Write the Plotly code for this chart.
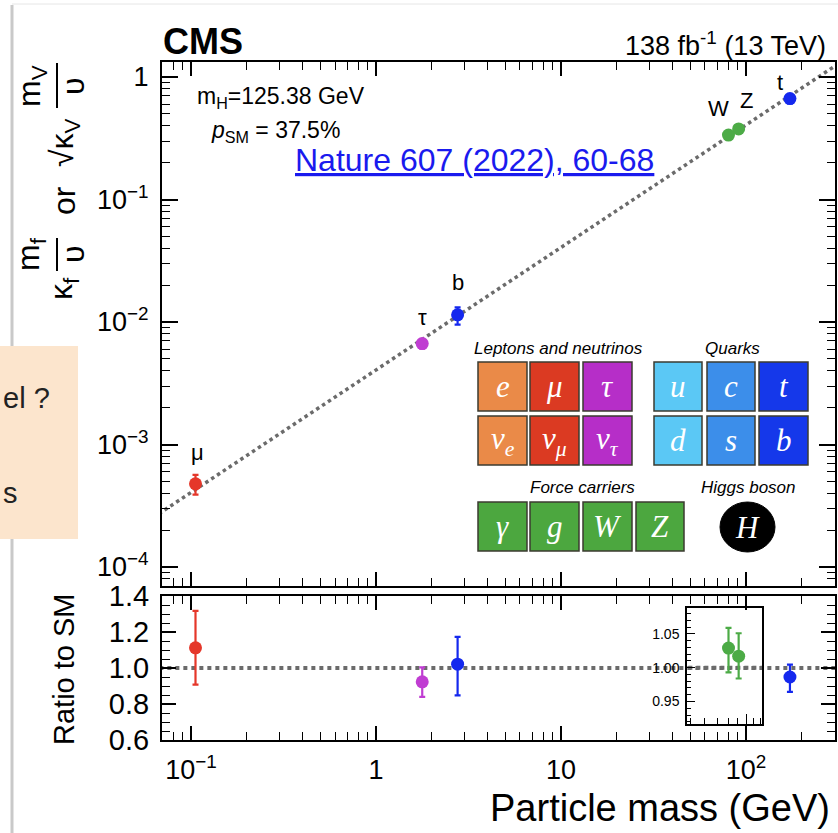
import numpy as np
import plotly.graph_objects as go

# ---------------- data ----------------
particles = ["μ", "τ", "b", "W", "Z", "t"]
masses = [0.1057, 1.777, 2.76, 80.38, 91.19, 172.76]          # GeV
ratio = [1.112, 0.923, 1.021, 1.029, 1.017, 0.950]            # ratio to SM
ratio_up = [0.205, 0.080, 0.152, 0.030, 0.034, 0.069]
ratio_dn = [0.204, 0.083, 0.173, 0.036, 0.033, 0.083]
colors = ["#E5372A", "#C03DD2", "#1428EE", "#4CAB46", "#4CAB46", "#1428EE"]
vev = 246.22
sm_mass_span = [0.05, 400.0]

ytick_vals = [1e-4, 1e-3, 1e-2, 1e-1, 1]
ytick_text = ["10<sup>−4</sup>", "10<sup>−3</sup>", "10<sup>−2</sup>", "10<sup>−1</sup>", "1"]
xtick_vals = [0.1, 1, 10, 100]
xtick_text = ["10<sup>−1</sup>", "1", "10", "10<sup>2</sup>"]
rtick_vals = [0.6, 0.8, 1.0, 1.2, 1.4]
itick_vals = [0.95, 1.00, 1.05]

W, H = 838, 833
def px(x): return x / W
def py(y): return 1 - y / H

FONT = "Liberation Sans, Arial, Helvetica, sans-serif"
SERIF = "Liberation Serif, DejaVu Serif, serif"

X0, X1 = 162, 835
xr = [-1.157, 2.481]

fig = go.Figure()

fig.add_trace(go.Scatter(x=sm_mass_span, y=[m / vev for m in sm_mass_span], mode="lines",
                         line=dict(color="#6b6b6b", width=3.5, dash="dot"),
                         xaxis="x", yaxis="y", showlegend=False, hoverinfo="skip"))
fig.add_trace(go.Scatter(x=sm_mass_span, y=[1, 1], mode="lines",
                         line=dict(color="#6b6b6b", width=4, dash="dot"),
                         xaxis="x2", yaxis="y2", showlegend=False, hoverinfo="skip"))
fig.add_trace(go.Scatter(x=[40, 150], y=[1, 1], mode="lines",
                         line=dict(color="#6b6b6b", width=4, dash="dot"),
                         xaxis="x3", yaxis="y3", showlegend=False, hoverinfo="skip"))

inset_set = {"W", "Z"}
label_off = {"μ": (2, 31), "τ": (0, 26), "b": (0, 32), "W": (-10, 27), "Z": (8, 28), "t": (-10, 16)}

annotations = []
for name, m, r, ru, rd, c in zip(particles, masses, ratio, ratio_up, ratio_dn, colors):
    base = m / vev
    fig.add_trace(go.Scatter(
        x=[m], y=[r * base], mode="markers",
        marker=dict(color=c, size=13),
        error_y=dict(type="data", symmetric=False, array=[ru * base], arrayminus=[rd * base],
                     color=c, thickness=2.2, width=3),
        xaxis="x", yaxis="y", showlegend=False))
    ax, ay = ("x3", "y3") if name in inset_set else ("x2", "y2")
    fig.add_trace(go.Scatter(
        x=[m], y=[r], mode="markers",
        marker=dict(color=c, size=13),
        error_y=dict(type="data", symmetric=False, array=[ru], arrayminus=[rd],
                     color=c, thickness=2.2, width=3),
        xaxis=ax, yaxis=ay, showlegend=False))
    dx, dy = label_off[name]
    annotations.append(dict(x=np.log10(m), y=np.log10(r * base), xref="x", yref="y",
                            text=name, showarrow=False, xshift=dx, yshift=dy,
                            font=dict(family=FONT, size=22, color="black")))

def minor_log(lo, hi):
    vals = []
    for e in range(lo, hi + 1):
        for d in range(2, 10):
            vals.append(d * 10.0 ** e)
    return vals

axis_common = dict(showline=True, linecolor="black", linewidth=2, mirror="allticks",
                   ticks="inside", tickcolor="black", tickwidth=1.5, showgrid=False,
                   zeroline=False)
tf26 = dict(family=FONT, size=27, color="black")
tf29 = dict(family=FONT, size=29, color="black")

top_dom = [py(586), py(62)]
bot_dom = [py(740), py(596)]

fig.update_layout(
    width=W, height=H, margin=dict(l=0, r=0, t=0, b=0, autoexpand=False),
    paper_bgcolor="white", plot_bgcolor="rgba(0,0,0,0)",
    xaxis=dict(domain=[px(X0), px(X1)], type="log", range=xr, anchor="y",
               tickvals=xtick_vals, showticklabels=False, ticklen=14,
               minor=dict(tickvals=minor_log(-2, 2), ticks="inside", ticklen=8,
                          tickcolor="black", tickwidth=1.2), **axis_common),
    yaxis=dict(domain=top_dom, type="log", range=[-4.155, 0.1224], anchor="x",
               tickvals=ytick_vals, ticktext=ytick_text, ticklen=16, ticklabelstandoff=6,
               tickfont=tf26,
               minor=dict(tickvals=minor_log(-5, 0), ticks="inside", ticklen=8,
                          tickcolor="black", tickwidth=1.2), **axis_common),
    xaxis2=dict(domain=[px(X0), px(X1)], type="log", range=xr, anchor="y2",
                tickvals=xtick_vals, ticktext=xtick_text, ticklen=14, ticklabelstandoff=5,
                tickfont=tf26,
                minor=dict(tickvals=minor_log(-2, 2), ticks="inside", ticklen=8,
                           tickcolor="black", tickwidth=1.2), **axis_common),
    yaxis2=dict(domain=bot_dom, range=[0.6, 1.4], anchor="x2",
                tickvals=rtick_vals, tickformat=".1f", ticklen=14, ticklabelstandoff=5,
                tickfont=tf29,
                minor=dict(dtick=0.05, ticks="inside", ticklen=8, tickcolor="black",
                           tickwidth=1.2), **axis_common),
    xaxis3=dict(domain=[px(687), px(762)], type="log", range=[1.681, 2.086], anchor="y3",
                showline=True, linecolor="black", linewidth=1.5, mirror=True,
                ticks="inside", ticklen=10, tickcolor="black", tickvals=[100],
                showticklabels=False, showgrid=False, zeroline=False,
                minor=dict(tickvals=[50, 60, 70, 80, 90, 110, 120], ticks="inside", ticklen=6,
                           tickcolor="black")),
    yaxis3=dict(domain=[py(724), py(607.7)], range=[0.9167, 1.0888], anchor="x3",
                showline=True, linecolor="black", linewidth=1.5, mirror=True,
                ticks="inside", ticklen=8, tickcolor="black", tickvals=itick_vals,
                tickformat=".2f", ticklabelstandoff=3,
                tickfont=dict(family=FONT, size=14, color="black"),
                showgrid=False, zeroline=False,
                minor=dict(dtick=0.01, ticks="inside", ticklen=4, tickcolor="black")),
)

def T(text, x, y, size, xanchor="center", yanchor="middle", angle=0, color="black",
      family=FONT):
    annotations.append(dict(x=px(x), y=py(y), xref="paper", yref="paper", text=text,
                            showarrow=False, xanchor=xanchor, yanchor=yanchor,
                            textangle=angle, font=dict(family=family, size=size, color=color)))

T("<b>CMS</b>", 161, 41, 36, xanchor="left")
T("138 fb<sup>-1</sup> (13 TeV)", 828, 44, 27, xanchor="right")
T("m<sub>H</sub>=125.38 GeV", 195, 97, 23, xanchor="left")
T("<i>p</i><sub>SM</sub> = 37.5%", 209, 131, 23, xanchor="left")
T("<u>Nature 607 (2022), 60-68</u>", 474, 160, 32, color="#1A1AEE")

T("m<sub>V</sub>", 31, 86, 32, angle=-90)
T("υ", 73, 86, 32, angle=-90)
T("√κ<sub>V</sub>", 64, 143, 32, angle=-90)
T("or", 64, 201, 32, angle=-90)
T("m<sub>f</sub>", 31, 254, 32, angle=-90)
T("υ", 73, 254, 32, angle=-90)
T("κ<sub>f</sub>", 64, 289, 32, angle=-90)

T("Ratio to SM", 64, 669, 29, angle=-90)
T("Particle mass (GeV)", 832, 808, 38, xanchor="right")

shapes = []
def line(x0, y0, x1, y1, color="black", width=2):
    shapes.append(dict(type="line", xref="paper", yref="paper", x0=px(x0), y0=py(y0),
                       x1=px(x1), y1=py(y1), line=dict(color=color, width=width)))

line(57, 63, 57, 108, width=2)
line(57, 238, 57, 271, width=2)

line(12, 5, 12, 833, color="#c9c9c9", width=3)
line(12, 4, 838, 4, color="#e6e6e6", width=1)

shapes.append(dict(type="rect", xref="paper", yref="paper", x0=px(0), x1=px(78),
                   y0=py(539), y1=py(346), fillcolor="#FCE5CD", line=dict(width=0)))
T("el ?", 1, 398, 29, xanchor="left", color="#222222")
T("s", 1, 493, 29, xanchor="left", color="#222222")

def box(x0, x1, y0, y1, fill, label):
    shapes.append(dict(type="rect", xref="paper", yref="paper", x0=px(x0), x1=px(x1),
                       y0=py(y1), y1=py(y0), fillcolor=fill,
                       line=dict(color="#3b3b30", width=1.5)))
    T("<i>" + label + "</i>", (x0 + x1) / 2, (y0 + y1) / 2, 31, color="white", family=SERIF)

lep_cols = [(478, 527), (530, 579), (583, 632)]
qk_cols = [(654, 702), (707, 755), (759, 808)]
frc_cols = [(478, 527), (530, 579), (583, 632), (636, 684)]
r1, r2, r3 = (362, 411), (416, 465), (502, 551)

for (c0, c1), col, lab in zip(lep_cols, ["#EA8A48", "#DB3A22", "#B62EC8"], ["e", "μ", "τ"]):
    box(c0, c1, r1[0], r1[1], col, lab)
for (c0, c1), col, lab in zip(lep_cols, ["#EA8A48", "#DB3A22", "#B62EC8"],
                              ["ν<sub>e</sub>", "ν<sub>μ</sub>", "ν<sub>τ</sub>"]):
    box(c0, c1, r2[0], r2[1], col, lab)
for (c0, c1), col, lab in zip(qk_cols, ["#5BC8F5", "#3C8EEA", "#1538EA"], ["u", "c", "t"]):
    box(c0, c1, r1[0], r1[1], col, lab)
for (c0, c1), col, lab in zip(qk_cols, ["#5BC8F5", "#3C8EEA", "#1538EA"], ["d", "s", "b"]):
    box(c0, c1, r2[0], r2[1], col, lab)
for (c0, c1), lab in zip(frc_cols, ["γ", "g", "W", "Z"]):
    box(c0, c1, r3[0], r3[1], "#4CA73F", lab)
shapes.append(dict(type="circle", xref="paper", yref="paper", x0=px(720), x1=px(775),
                   y0=py(552), y1=py(502), fillcolor="black", line=dict(color="black", width=1)))
T("<i>H</i>", 747, 527, 31, color="white", family=SERIF)

T("<i>Leptons and neutrinos</i>", 558, 348, 17)
T("<i>Quarks</i>", 732, 348, 17)
T("<i>Force carriers</i>", 582, 488, 17)
T("<i>Higgs boson</i>", 748, 488, 17)

fig.update_layout(annotations=annotations, shapes=shapes)
fig.write_html("out.html")
